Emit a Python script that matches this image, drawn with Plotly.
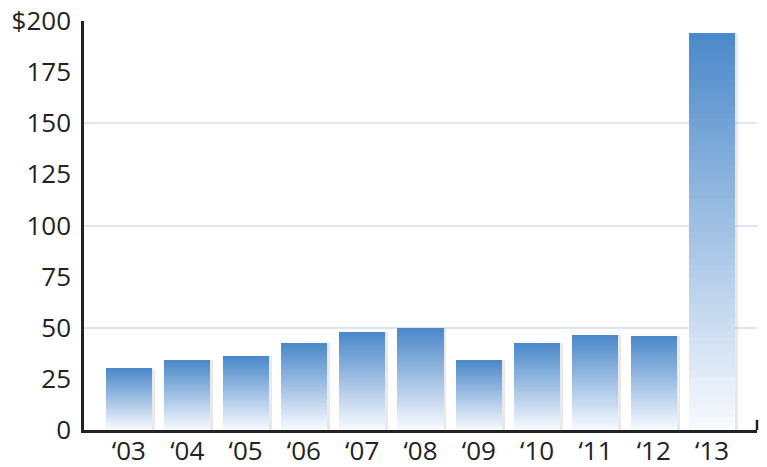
import plotly.graph_objects as go

# ---- data ----
years = ["‘03", "‘04", "‘05", "‘06", "‘07", "‘08", "‘09", "‘10", "‘11", "‘12", "‘13"]
values = [30, 34, 36, 42.5, 48, 50, 34, 42.5, 46.5, 46, 194]
y_tick_vals = [0, 25, 50, 75, 100, 125, 150, 175, 200]
y_tick_text = ["0", "25", "50", "75", "100", "125", "150", "175", "$200"]
grid_vals = [50, 100, 150, 200]

# ---- style ----
FONT = "Open Sans"
FSIZE = 26
TOP = (76, 137, 202)
BOTTOM = (248, 250, 254)
N_SLICES = 60
BAR_W = 0.79
X_RANGE = [-0.77, 10.77]

fig = go.Figure()

# soft shadow behind the bars (main x axis)
fig.add_trace(go.Bar(
    x=years, y=values, width=BAR_W, offset=-BAR_W / 2 + 0.05,
    marker=dict(color="rgba(120,120,120,0.16)", line=dict(width=0)),
    xaxis="x", yaxis="y", hoverinfo="skip", showlegend=False,
))

# gradient bars: each bar stacked from thin slices, white at the bottom to blue at the top
for k in range(N_SLICES):
    t = k / (N_SLICES - 1)
    c = tuple(round(BOTTOM[i] + (TOP[i] - BOTTOM[i]) * t) for i in range(3))
    fig.add_trace(go.Bar(
        x=years, y=[v / N_SLICES for v in values], width=BAR_W,
        marker=dict(color="rgb(%d,%d,%d)" % c, line=dict(width=0)),
        xaxis="x2", yaxis="y", hoverinfo="skip", showlegend=False,
    ))

fig.update_layout(
    width=767, height=467,
    margin=dict(l=84, r=10, t=21, b=37),
    paper_bgcolor="white", plot_bgcolor="white",
    barmode="stack", bargap=1 - BAR_W,
    showlegend=False,
    font=dict(family=FONT, size=FSIZE, color="#222222"),
    xaxis=dict(
        type="category", range=X_RANGE, showgrid=False, zeroline=False,
        showline=True, linecolor="#222222", linewidth=2.5, layer="below traces",
        ticks="", ticklabelstandoff=-4,
        tickfont=dict(family=FONT, size=FSIZE, color="#222222"),
        automargin=False, fixedrange=True,
    ),
    xaxis2=dict(
        type="category", range=X_RANGE, overlaying="x", showgrid=False,
        zeroline=False, showline=False, showticklabels=False, ticks="",
        matches="x", automargin=False,
    ),
    yaxis=dict(
        range=[0, 200], tickvals=y_tick_vals, ticktext=y_tick_text,
        showgrid=False, zeroline=False, showline=True, linecolor="#222222",
        linewidth=2.5, ticks="", ticklabelstandoff=5, automargin=False,
        tickfont=dict(family=FONT, size=FSIZE, color="#222222"),
    ),
    yaxis2=dict(
        range=[0, 200], overlaying="y", tickvals=grid_vals, showgrid=True,
        gridcolor="#dfe5f4", gridwidth=1.5, showticklabels=False,
        zeroline=False, showline=False, ticks="", automargin=False,
    ),
)

# small upturned tick at the right end of the x axis line
fig.add_shape(type="line", xref="paper", yref="paper", x0=1, x1=1, y0=0, y1=0.025,
              line=dict(color="#222222", width=2.5))

# invisible trace so yaxis2 gridlines render
fig.add_trace(go.Scatter(x=[None], y=[None], yaxis="y2", xaxis="x", showlegend=False,
                         hoverinfo="skip"))

fig.write_html("out.html",
               config={"displayModeBar": False},
               post_script="document.body.style.margin='0';document.body.style.overflow='hidden';")
